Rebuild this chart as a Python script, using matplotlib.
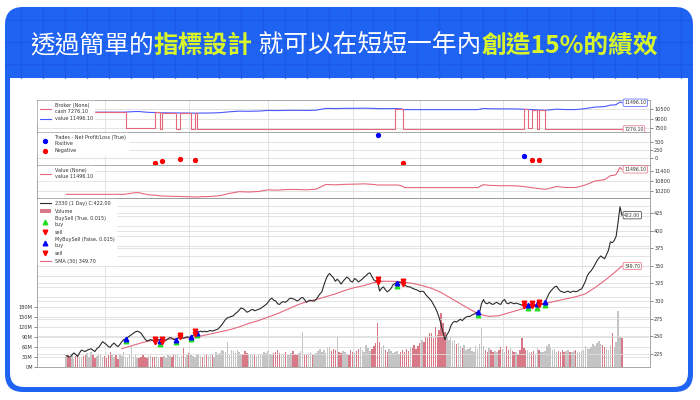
import numpy as np
import matplotlib
matplotlib.use('Agg')
import matplotlib.pyplot as plt
from matplotlib.patches import FancyBboxPatch, Rectangle, Patch
from matplotlib.lines import Line2D
from matplotlib.ticker import FuncFormatter

# ---------------- data ----------------
title_parts = ["透過簡單的", "指標設計", " 就可以在短短一年內", "創造15%的績效"]
title_highlight = [False, True, False, True]

close = [
    222, 221, 220, 223, 226, 224, 221, 226, 230, 229,
    228, 230, 231, 232, 230, 228, 232, 234, 238, 242,
    240, 238, 235, 234, 238, 240, 237, 235, 238, 242,
    245, 246, 248, 250, 252, 254, 256, 257, 256, 254,
    250, 246, 243, 244, 245, 244, 242, 244, 245, 243,
    242, 243, 244, 246, 248, 247, 245, 245, 247, 248,
    248, 247, 248, 249, 248, 249, 251, 253, 255, 256,
    257, 256, 257, 256, 257, 258, 257, 258, 259, 260,
    263, 266, 270, 274, 276, 277, 278, 279, 282, 284,
    287, 290, 289, 287, 284, 285, 287, 288, 286, 287,
    288, 289, 291, 293, 295, 298, 302, 304, 301, 300,
    296, 295, 298, 299, 298, 300, 303, 304, 303, 302,
    300, 301, 304, 305, 302, 298, 300, 301, 300, 300,
    302, 306, 310, 313, 322, 330, 336, 339, 336, 333,
    328, 331, 328, 324, 328, 331, 334, 332, 328, 327,
    332, 330, 327, 329, 331, 334, 336, 339, 340, 335,
    330, 328, 327, 314, 318, 320, 316, 313, 315, 318,
    323, 325, 326, 327, 326, 324, 323, 321, 320, 320,
    318, 317, 316, 315, 313, 314, 313, 309, 306, 303,
    300, 295, 290, 284, 276, 266, 255, 245, 252, 256,
    264, 269, 271, 270, 272, 274, 272, 275, 277, 278,
    278, 280, 281, 283, 284, 284, 296, 302, 297, 296,
    298, 296, 295, 297, 298, 296, 295, 300, 302, 297,
    296, 298, 297, 296, 297, 296, 295, 294, 293, 292,
    294, 295, 293, 292, 294, 295, 294, 295, 296, 298,
    304, 310, 314, 317, 320, 321, 317, 314, 313, 312,
    313, 314, 312, 313, 314, 313, 314, 316, 317, 322,
    328, 336, 340, 343, 347, 352, 357, 361, 364, 362,
    360, 366, 372, 384, 383, 386, 392, 412, 434, 422,
]

volume_m = [
    30, 35, 28, 40, 25, 32, 38, 30, 27, 33,
    36, 42, 30, 45, 38, 28, 33, 40, 35, 30,
    32, 28, 35, 44, 40, 30, 36, 25, 38, 33,
    45, 30, 28, 38, 66, 30, 38, 28, 26, 30,
    35, 30, 28, 32, 36, 30, 29, 33, 28, 31,
    30, 34, 28, 36, 32, 30, 40, 35, 35, 30,
    32, 57, 30, 35, 42, 36, 33, 30, 40, 35,
    33, 30, 36, 38, 32, 40, 35, 30, 45, 38,
    42, 50, 48, 45, 75, 40, 51, 48, 42, 50,
    45, 40, 38, 48, 42, 36, 38, 35, 40, 33,
    40, 35, 38, 45, 42, 48, 40, 36, 42, 45,
    50, 42, 36, 40, 45, 36, 35, 42, 48, 40,
    36, 42, 48, 105, 40, 36, 42, 45, 36, 38,
    42, 48, 55, 45, 50, 42, 58, 60, 48, 55,
    50, 90, 45, 42, 48, 44, 40, 36, 50, 45,
    42, 48, 55, 60, 50, 45, 65, 58, 48, 55,
    62, 72, 132, 75, 60, 65, 50, 45, 55, 48,
    42, 45, 48, 40, 44, 50, 46, 55, 48, 60,
    58, 65, 55, 62, 72, 80, 75, 90, 85, 100,
    100, 85, 120, 95, 110, 160, 130, 105, 90, 80,
    90, 78, 82, 68, 72, 62, 58, 65, 52, 55,
    58, 48, 46, 62, 55, 68, 117, 62, 52, 46,
    58, 52, 46, 48, 44, 52, 60, 55, 46, 62,
    52, 58, 48, 46, 44, 40, 52, 87, 58, 52,
    52, 46, 44, 48, 40, 58, 52, 46, 44, 48,
    62, 68, 58, 52, 55, 46, 48, 44, 52, 46,
    48, 52, 46, 44, 48, 52, 46, 44, 48, 52,
    62, 58, 55, 60, 68, 62, 72, 78, 70, 65,
    60, 55, 50, 65, 102, 60, 75, 168, 90, 87,
]

sma_idx = [29, 35, 40, 45, 50, 55, 60, 65, 70, 75, 80, 85, 90, 95, 100, 105,
           110, 115, 120, 125, 130, 135, 140, 145, 150, 155, 160, 165, 170,
           175, 180, 185, 190, 195, 200, 205, 210, 215, 220, 225, 230, 235,
           240, 245, 250, 255, 260, 265, 270, 275, 280, 285, 289]
sma_vals = [232, 237, 241, 244, 245, 246, 247, 248, 250, 253, 256, 259, 263,
            268, 272, 277, 282, 288, 294, 299, 302, 306, 310, 315, 319, 322,
            326, 328, 328, 327, 325, 322, 318, 312, 304, 296, 288, 281, 278,
            279, 283, 287, 291, 295, 297, 300, 303, 306, 310, 319, 329, 340,
            349.7]

value_idx = [0, 30, 33, 36, 38, 40, 43, 46, 50, 55, 60, 65, 68, 70, 75, 80,
             85, 90, 95, 100, 105, 110, 115, 120, 125, 130, 135, 140, 145, 150,
             155, 160, 162, 172, 174, 176, 214, 217, 220, 225, 230, 235, 238,
             242, 246, 249, 250, 255, 260, 265, 270, 275, 280, 283, 285, 286,
             287, 288, 289]
value_vals = [10000, 10000, 10050, 10100, 10100, 10040, 9970, 9950, 9900,
              9880, 9870, 9850, 9840, 9860, 9870, 9920, 10060, 10160, 10140,
              10170, 10270, 10250, 10290, 10290, 10270, 10310, 10590, 10570,
              10600, 10610, 10630, 10590, 10560, 10560, 10530, 10404, 10404,
              10580, 10540, 10520, 10520, 10500, 10466, 10404, 10342, 10300,
              10320, 10470, 10410, 10410, 10560, 10800, 10880, 11120, 11140,
              11200, 11400, 11616, 11496.1]

cash_idx = [0, 31, 46, 49, 50, 57, 59, 65, 67, 68, 171, 175, 238, 240, 242,
            245, 246, 249, 289]
cash_vals = [10000, 7540, 9950, 7400, 9900, 7380, 9870, 7350, 9850, 7300,
             10560, 7300, 10466, 7500, 10404, 7400, 10342, 7276.1, 7276.1]

buy_idx = [31, 49, 57, 65, 68, 172, 214, 240, 245, 249]
sell_idx = [46, 50, 59, 67, 162, 175, 238, 242, 246]
trade_idx = [46, 50, 59, 67, 162, 175, 238, 242, 246]
trade_pnl = [-156, -94, -31, -62, 720, -156, 62, -62, -62]

month_ticks = [20, 64, 105, 149, 184, 227, 268]
price_ticks = [225, 250, 275, 300, 325, 350, 375, 400, 425]
vol_ticks_m = [0, 30, 60, 90, 120, 150, 180]
broker_ticks = [7500, 9000, 10500]
trade_ticks = [0, 250, 500]
value_ticks = [10200, 10800, 11400]

# ---------------- style ----------------
BLUE = '#1f63f3'
GRIDBLUE = '#1a55dc'
YELLOW = '#d8f52b'
PINK = '#e6677d'
VBLUE = '#4a58ff'
VOL_DOWN = '#d97886'
VOL_UP = '#c4c4c4'
GRID = '#dedede'
SPINE = '#9a9a9a'
TXT = '#333333'
CJK = ['Noto Sans CJK TC', 'DejaVu Sans']

fig = plt.figure(figsize=(7, 4), dpi=100)
fig.patch.set_facecolor('white')

ax_bg = fig.add_axes([0, 0, 1, 1])
ax_bg.set_xlim(0, 700)
ax_bg.set_ylim(400, 0)
ax_bg.axis('off')
ax_bg.set_zorder(-10)

outer = FancyBboxPatch((5, 7), 688, 385, boxstyle='round,pad=0,rounding_size=18',
                       fc=BLUE, ec='none')
ax_bg.add_patch(outer)
for gx in range(21, 693, 22):
    ln, = ax_bg.plot([gx, gx], [7, 78], color=GRIDBLUE, lw=1.0, alpha=0.6)
    ln.set_clip_path(outer)
for gy in [20, 42, 64]:
    ln, = ax_bg.plot([5, 693], [gy, gy], color=GRIDBLUE, lw=1.0, alpha=0.6)
    ln.set_clip_path(outer)
ax_bg.add_patch(FancyBboxPatch((10, 78), 678, 309, boxstyle='round,pad=0,rounding_size=14',
                               fc='white', ec='none'))
ax_bg.add_patch(Rectangle((10, 78), 678, 30, fc='white', ec='none'))

# title
rend = fig.canvas.get_renderer()
texts = []
for part, hl in zip(title_parts, title_highlight):
    t = ax_bg.text(0, 46, part, color=YELLOW if hl else 'white', fontsize=17.8,
                   fontweight='bold' if hl else 'medium', family=CJK,
                   va='center', ha='left')
    texts.append(t)
widths = [t.get_window_extent(rend).width for t in texts]
x0 = 344 - sum(widths) / 2
for t, w in zip(texts, widths):
    t.set_x(x0)
    x0 += w

# ---------------- chart axes ----------------
L, W = 37 / 700, 613 / 700
ax_b = fig.add_axes([L, 1 - 132 / 400, W, 32 / 400])
ax_t = fig.add_axes([L, 1 - 165 / 400, W, 33 / 400], sharex=ax_b)
ax_v = fig.add_axes([L, 1 - 198 / 400, W, 33 / 400], sharex=ax_b)
ax_m = fig.add_axes([L, 1 - 367 / 400, W, 169 / 400], sharex=ax_b)
ax_vol = ax_m.twinx()
ax_m.set_zorder(ax_vol.get_zorder() + 1)
ax_m.patch.set_visible(False)

n = len(close)
idx = np.arange(n)
close_a = np.array(close, dtype=float)


def style(ax):
    for s in ax.spines.values():
        s.set_color(SPINE)
        s.set_linewidth(0.6)
    ax.tick_params(labelsize=3.6, length=2, width=0.4, pad=1, colors=TXT)
    ax.yaxis.tick_right()
    ax.set_xticks(month_ticks)
    ax.tick_params(axis='x', length=0, labelbottom=False)
    ax.grid(True, color=GRID, lw=0.6)
    ax.set_axisbelow(True)


for a in (ax_b, ax_t, ax_v, ax_m):
    style(a)
ax_b.set_xlim(-15.1, 303.6)


def end_label(ax, x, y, s, color):
    ax.text(x + 1.2, y, s, fontsize=3.3, color=TXT, va='center', ha='left',
            bbox=dict(boxstyle='round,pad=0.25', fc='white', ec=color, lw=0.5),
            zorder=6)


def legend(ax, handles, labels):
    lg = ax.legend(handles, labels, loc='upper left', fontsize=3.5, frameon=True,
                   handlelength=2.2, borderaxespad=0.3, labelspacing=0.55,
                   handletextpad=0.8, borderpad=0.3)
    lg.get_frame().set_facecolor('white')
    lg.get_frame().set_edgecolor('white')
    lg.get_frame().set_alpha(1)
    lg.set_zorder(10)
    for t in lg.get_texts():
        t.set_color(TXT)


# Broker panel
l_cash, = ax_b.plot(cash_idx, cash_vals, color=PINK, lw=0.8, drawstyle='steps-post', zorder=3)
l_val, = ax_b.plot(value_idx, value_vals, color=VBLUE, lw=0.8, zorder=2)
ax_b.set_ylim(6870, 11920)
ax_b.set_yticks(broker_ticks)
end_label(ax_b, value_idx[-1], value_vals[-1], f'{value_vals[-1]:.2f}', VBLUE)
end_label(ax_b, cash_idx[-1], cash_vals[-1], f'{cash_vals[-1]:.2f}', PINK)
legend(ax_b, [l_cash, l_val], [f'Broker (None)\ncash {cash_vals[-1]:.2f}',
                               f'value {value_vals[-1]:.2f}'])

# Trades panel
pnl = np.array(trade_pnl)
tix = np.array(trade_idx)
pos = pnl > 0
h_pos, = ax_t.plot(tix[pos], pnl[pos], 'o', color='blue', ms=2.8, ls='none')
h_neg, = ax_t.plot(tix[~pos], pnl[~pos], 'o', color='red', ms=2.8, ls='none')
ax_t.set_ylim(-220, 810)
ax_t.set_yticks(trade_ticks)
legend(ax_t, [h_pos, h_neg], ['Trades - Net Profit/Loss (True)\nPositive', 'Negative'])

# Value panel
l_v2, = ax_v.plot(value_idx, value_vals, color=PINK, lw=0.8)
ax_v.set_ylim(9780, 11760)
ax_v.set_yticks(value_ticks)
end_label(ax_v, value_idx[-1], value_vals[-1], f'{value_vals[-1]:.2f}', PINK)
legend(ax_v, [l_v2], [f'Value (None)\nvalue {value_vals[-1]:.2f}'])

# Main panel: volume
vol = np.array(volume_m, dtype=float) * 1e6
down = np.r_[False, close_a[1:] < close_a[:-1]]
ax_vol.bar(idx, vol, width=0.75, color=np.where(down, VOL_DOWN, VOL_UP), lw=0)
ax_vol.set_ylim(0, 504e6)
ax_vol.yaxis.tick_left()
ax_vol.set_yticks([v * 1e6 for v in vol_ticks_m])
ax_vol.yaxis.set_major_formatter(FuncFormatter(lambda v, p: f'{int(round(v / 1e6))}M'))
ax_vol.tick_params(labelsize=3.6, length=2, width=0.4, pad=1, colors=TXT)
for s in ax_vol.spines.values():
    s.set_visible(False)
ax_vol.grid(True, axis='y', color=GRID, lw=0.6)
ax_vol.set_axisbelow(True)
for gy in np.arange(210, 504, 30):
    ax_vol.axhline(gy * 1e6, color=GRID, lw=0.6, zorder=0)

# Main panel: price, SMA, markers
l_price, = ax_m.plot(idx, close_a, color='#2b2b2b', lw=0.8, zorder=3)
l_sma, = ax_m.plot(sma_idx, sma_vals, color=PINK, lw=0.8, zorder=2)
bi = np.array(buy_idx)
si = np.array(sell_idx)
h_bg, = ax_m.plot(bi, close_a[bi] * 0.985, '^', color='#22dd22', ms=3.3, ls='none', zorder=4)
h_ss, = ax_m.plot(si, close_a[si] * 1.015, 'v', color='red', ms=3.3, ls='none', zorder=4)
h_bb, = ax_m.plot(bi, close_a[bi], '^', color='blue', ms=3.3, ls='none', zorder=5)
h_ms, = ax_m.plot(si, close_a[si], 'v', color='red', ms=3.3, ls='none', zorder=5)
ax_m.set_ylim(206, 446.5)
ax_m.set_yticks(price_ticks)
end_label(ax_m, n - 1, close_a[-1], f'{close_a[-1]:.2f}', '#333333')
end_label(ax_m, sma_idx[-1], sma_vals[-1], f'{sma_vals[-1]:.2f}', PINK)
h_volp = Patch(fc=VOL_DOWN, ec='none')
legend(ax_m, [l_price, h_volp, h_bg, h_ss, h_bb, h_ms, l_sma],
       [f'2330 (1 Day) C:{close_a[-1]:.2f}', 'Volume',
        'BuySell (True, 0.015)\nbuy', 'sell',
        'MyBuySell (False, 0.015)\nbuy', 'sell',
        f'SMA (30) {sma_vals[-1]:.2f}'])

fig.savefig('out.png', dpi=100)
